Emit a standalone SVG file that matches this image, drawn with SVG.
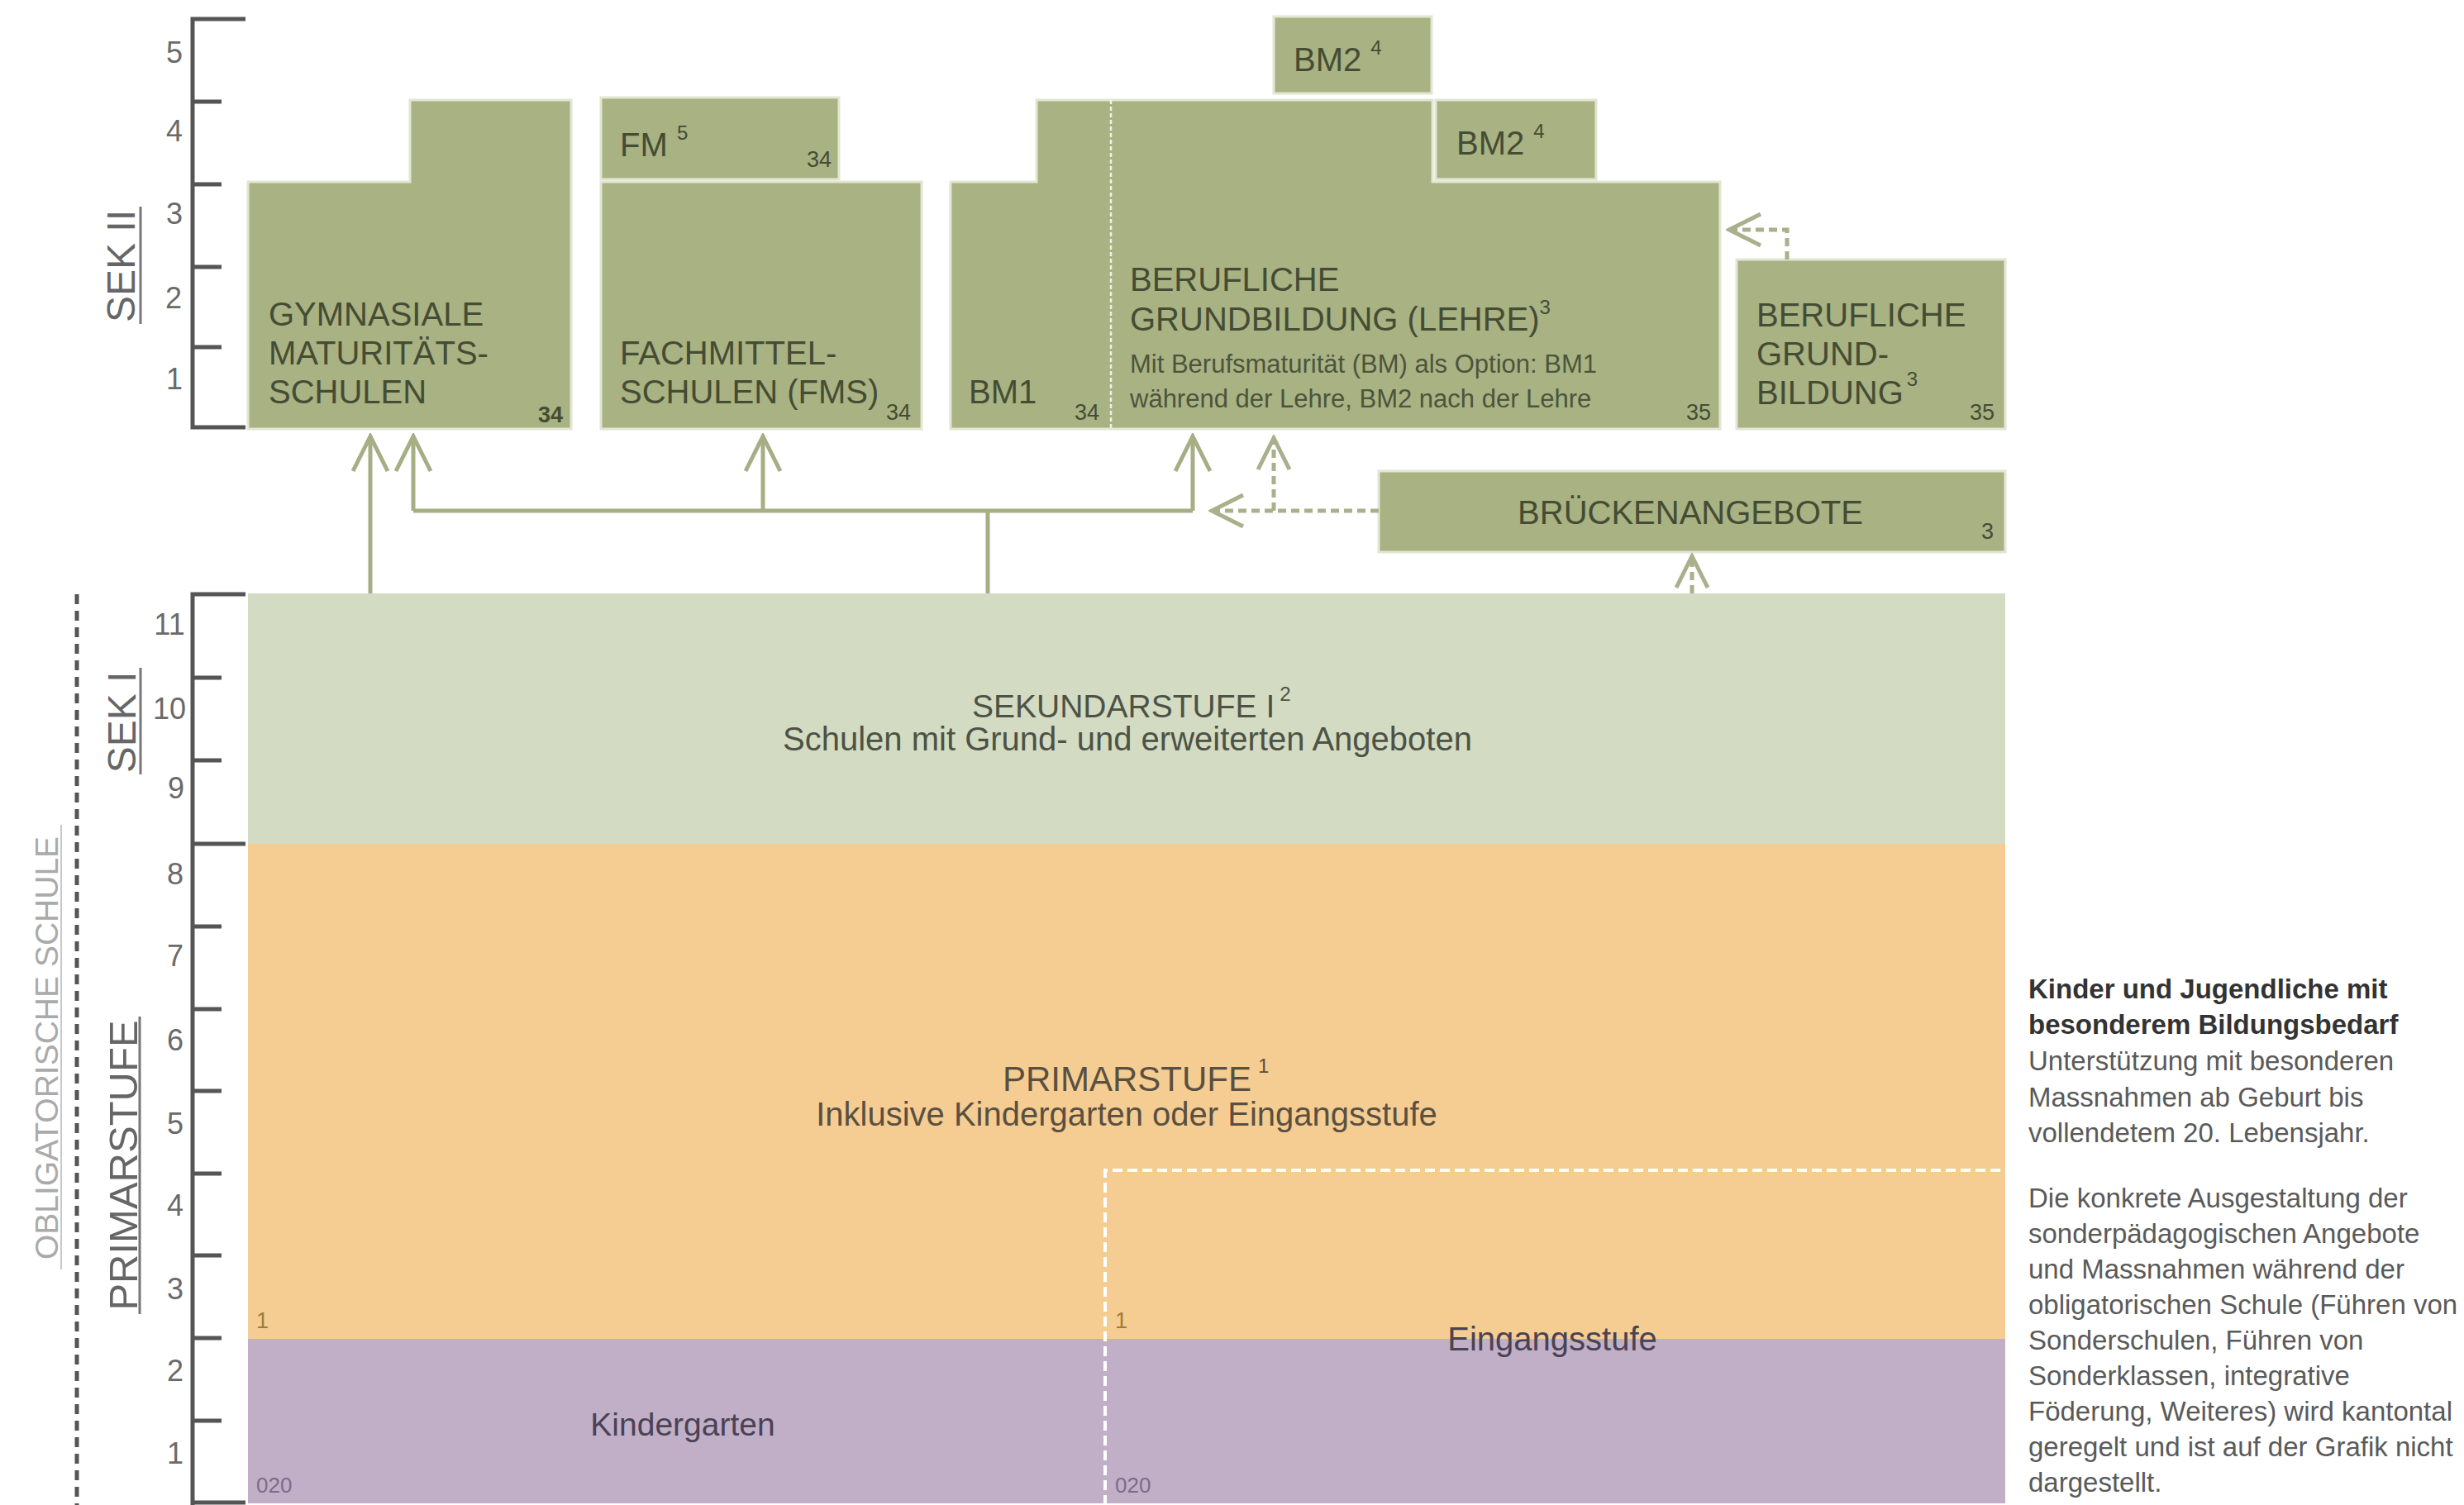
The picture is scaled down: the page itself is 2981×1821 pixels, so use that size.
<svg xmlns="http://www.w3.org/2000/svg" width="2981" height="1821" viewBox="0 0 2981 1821">
<defs>
<style>
text{font-family:"Liberation Sans",Arial,Helvetica,sans-serif;}
.box{fill:#a8b283;stroke:#e2e6d2;stroke-width:3;}
.bt{font-size:40px;fill:#454c33;}
.sub{font-size:31px;fill:#4d543c;}
.num{font-size:27px;fill:#454c33;}
.sup{font-size:24px;}
.ax{font-size:36px;fill:#6a6a6a;text-anchor:middle;}
.axl{stroke:#555;stroke-width:5;fill:none;}
.lbl{font-size:48px;fill:#666;text-anchor:middle;}
.ul{stroke:#777;stroke-width:3;}
.con{stroke:#a6ae86;stroke-width:5;fill:none;}
.dcon{stroke:#a9b08c;stroke-width:5;fill:none;stroke-dasharray:10 6;}
.side{font-size:33px;fill:#5a5a5a;}
.sideb{font-size:33px;fill:#333;font-weight:bold;}
</style>
<marker id="chev" viewBox="-46 -25 50 50" refX="0" refY="0" markerWidth="50" markerHeight="50" markerUnits="userSpaceOnUse" orient="auto">
<path d="M-42,-21 L0,0 L-42,21" fill="none" stroke="#a6ae86" stroke-width="5" stroke-dasharray="none"/>
</marker>
<marker id="chevd" viewBox="-46 -25 50 50" refX="0" refY="0" markerWidth="50" markerHeight="50" markerUnits="userSpaceOnUse" orient="auto">
<path d="M-38,-19 L0,0 L-38,19" fill="none" stroke="#a9b08c" stroke-width="5" stroke-dasharray="none"/>
</marker>
</defs>
<rect width="2981" height="1821" fill="#ffffff"/>

<!-- Axes and side labels -->
<g id="axes">
<path class="axl" d="M297,23 H233 V517 H297 M233,123 H268 M233,223 H268 M233,323 H268 M233,420 H268"/>
<path class="axl" d="M297,719 H233 V1821 M233,1021 H297 M233,1818 H297 M233,820 H268 M233,920 H268 M233,1121 H268 M233,1221 H268 M233,1320 H268 M233,1420 H268 M233,1519 H268 M233,1619 H268 M233,1719 H268"/>
<text class="ax" x="211" y="76">5</text>
<text class="ax" x="211" y="171">4</text>
<text class="ax" x="211" y="271">3</text>
<text class="ax" x="210" y="373">2</text>
<text class="ax" x="211" y="471">1</text>
<text class="ax" x="205" y="768">11</text>
<text class="ax" x="205" y="870">10</text>
<text class="ax" x="213" y="966">9</text>
<text class="ax" x="212" y="1070">8</text>
<text class="ax" x="212" y="1169">7</text>
<text class="ax" x="212" y="1271">6</text>
<text class="ax" x="212" y="1372">5</text>
<text class="ax" x="212" y="1471">4</text>
<text class="ax" x="212" y="1572">3</text>
<text class="ax" x="212" y="1671">2</text>
<text class="ax" x="212" y="1771">1</text>
<text class="lbl" transform="translate(163,322) rotate(-90)">SEK II</text>
<line class="ul" x1="170" y1="250" x2="170" y2="392"/>
<text class="lbl" transform="translate(164,874) rotate(-90)">SEK I</text>
<line class="ul" x1="170" y1="808" x2="170" y2="937"/>
<text class="lbl" style="font-size:49px" transform="translate(166,1410) rotate(-90)">PRIMARSTUFE</text>
<line class="ul" x1="169" y1="1230" x2="169" y2="1590"/>
<text transform="translate(70,1268) rotate(-90)" style="font-size:39px;fill:#aaaaaa;text-anchor:middle">OBLIGATORISCHE SCHULE</text>
<line x1="74" y1="998" x2="74" y2="1536" stroke="#c8c8c8" stroke-width="2"/>
<line x1="93" y1="719" x2="93" y2="1821" stroke="#555" stroke-width="5" stroke-dasharray="12 8"/>
</g>

<!-- Bands -->
<g id="sek1">
<rect x="300" y="718" width="2126" height="303" fill="#d3dbc3"/>
<text x="1176" y="868" style="font-size:39px;fill:#4d5245">SEKUNDARSTUFE I<tspan class="sup" dy="-20" dx="6">2</tspan></text>
<text x="1364" y="908" style="font-size:40px;fill:#4d5245;text-anchor:middle">Schulen mit Grund- und erweiterten Angeboten</text>
</g>
<g id="primarstufe">
<rect x="300" y="1021" width="2126" height="599" fill="#f5cd92"/>
<text x="1213" y="1320" style="font-size:42px;fill:#5a5041">PRIMARSTUFE<tspan class="sup" dy="-22" dx="8">1</tspan></text>
<text x="1363" y="1362" style="font-size:40px;fill:#5a5041;text-anchor:middle">Inklusive Kindergarten oder Eingangsstufe</text>
<text x="310" y="1607" style="font-size:27px;fill:#9c7b3b">1</text>
<text x="1349" y="1607" style="font-size:27px;fill:#9c7b3b">1</text>
</g>
<g id="kindergarten">
<rect x="300" y="1620" width="2126" height="199" fill="#c1afc8"/>
<text x="826" y="1737" style="font-size:39px;fill:#4a4255;text-anchor:middle">Kindergarten</text>
<text x="310" y="1806" style="font-size:26px;fill:#7b6b8a">020</text>
<text x="1349" y="1806" style="font-size:26px;fill:#7b6b8a">020</text>
</g>
<g id="eingangsstufe">
<path d="M1337,1821 V1416 H2426" fill="none" stroke="#ffffff" stroke-width="4" stroke-dasharray="12 6"/>
<text x="1878" y="1634" style="font-size:40px;fill:#4a4255;text-anchor:middle">Eingangsstufe</text>
</g>

<!-- SEK II nodes -->
<g id="gymnasium">
<path class="box" d="M300,220 H496 V121 H691 V519 H300 Z"/>
<text class="bt" x="325" y="394">GYMNASIALE</text>
<text class="bt" x="325" y="441">MATURITÄTS-</text>
<text class="bt" x="325" y="488">SCHULEN</text>
<text class="num" x="651" y="511" style="font-weight:bold">34</text>
</g>
<g id="fm">
<rect class="box" x="727" y="118" width="288" height="99"/>
<text class="bt" x="750" y="189">FM <tspan class="sup" dy="-20">5</tspan></text>
<text class="num" x="976" y="202">34</text>
</g>
<g id="fms">
<rect class="box" x="727" y="220" width="388" height="299"/>
<text class="bt" x="750" y="441">FACHMITTEL-</text>
<text class="bt" x="750" y="488">SCHULEN (FMS)</text>
<text class="num" x="1072" y="508">34</text>
</g>
<g id="berufliche-grundbildung-lehre">
<path class="box" d="M1150,220 H1254 V121 H1733 V220 H2081 V519 H1150 Z"/>
<line x1="1344" y1="121" x2="1344" y2="519" stroke="#eef0e4" stroke-width="2.5" stroke-dasharray="5 3"/>
<text class="bt" x="1172" y="488">BM1</text>
<text class="num" x="1300" y="508">34</text>
<text class="bt" x="1367" y="352">BERUFLICHE</text>
<text class="bt" x="1367" y="400">GRUNDBILDUNG (LEHRE)<tspan class="sup" dy="-20">3</tspan></text>
<text class="sub" x="1367" y="451">Mit Berufsmaturität (BM) als Option: BM1</text>
<text class="sub" x="1367" y="493">während der Lehre, BM2 nach der Lehre</text>
<text class="num" x="2040" y="508">35</text>
</g>
<g id="bm2-top">
<rect class="box" x="1541" y="20" width="191" height="93"/>
<text class="bt" x="1565" y="86">BM2 <tspan class="sup" dy="-20">4</tspan></text>
</g>
<g id="bm2">
<rect class="box" x="1737" y="121" width="194" height="96"/>
<text class="bt" x="1762" y="187">BM2 <tspan class="sup" dy="-20">4</tspan></text>
</g>
<g id="berufliche-grundbildung">
<rect class="box" x="2101" y="314" width="325" height="205"/>
<text class="bt" x="2125" y="395">BERUFLICHE</text>
<text class="bt" x="2125" y="442">GRUND-</text>
<text class="bt" x="2125" y="489">BILDUNG<tspan class="sup" dy="-22" dx="4">3</tspan></text>
<text class="num" x="2383" y="508">35</text>
</g>
<g id="brueckenangebote">
<rect class="box" x="1668" y="570" width="758" height="98"/>
<text class="bt" x="2045" y="634" style="text-anchor:middle">BRÜCKENANGEBOTE</text>
<text class="num" x="2397" y="652">3</text>
</g>

<!-- Connectors -->
<g id="connectors">
<path class="con" d="M448,718 V528" marker-end="url(#chev)"/>
<path class="con" d="M1195,718 V618"/>
<path class="con" d="M500,618 H1443"/>
<path class="con" d="M500,618 V528" marker-end="url(#chev)"/>
<path class="con" d="M923,618 V528" marker-end="url(#chev)"/>
<path class="con" d="M1443,618 V528" marker-end="url(#chev)"/>
<path class="dcon" d="M1668,618 H1466" marker-end="url(#chevd)"/>
<path class="dcon" d="M1541,618 V530" marker-end="url(#chevd)"/>
<path class="dcon" d="M2047,718 V673" marker-end="url(#chevd)"/>
<path class="dcon" d="M2162,314 V278 H2092" marker-end="url(#chevd)"/>
</g>

<!-- Side note -->
<g id="note">
<text class="sideb" x="2454" y="1208">Kinder und Jugendliche mit</text>
<text class="sideb" x="2454" y="1251">besonderem Bildungsbedarf</text>
<text class="side" x="2454" y="1295">Unterstützung mit besonderen</text>
<text class="side" x="2454" y="1339">Massnahmen ab Geburt bis</text>
<text class="side" x="2454" y="1382">vollendetem 20. Lebensjahr.</text>
<text class="side" x="2454" y="1461">Die konkrete Ausgestaltung der</text>
<text class="side" x="2454" y="1504">sonderpädagogischen Angebote</text>
<text class="side" x="2454" y="1547">und Massnahmen während der</text>
<text class="side" x="2454" y="1590">obligatorischen Schule (Führen von</text>
<text class="side" x="2454" y="1633">Sonderschulen, Führen von</text>
<text class="side" x="2454" y="1676">Sonderklassen, integrative</text>
<text class="side" x="2454" y="1719">Föderung, Weiteres) wird kantontal</text>
<text class="side" x="2454" y="1762">geregelt und ist auf der Grafik nicht</text>
<text class="side" x="2454" y="1805">dargestellt.</text>
</g>
</svg>
